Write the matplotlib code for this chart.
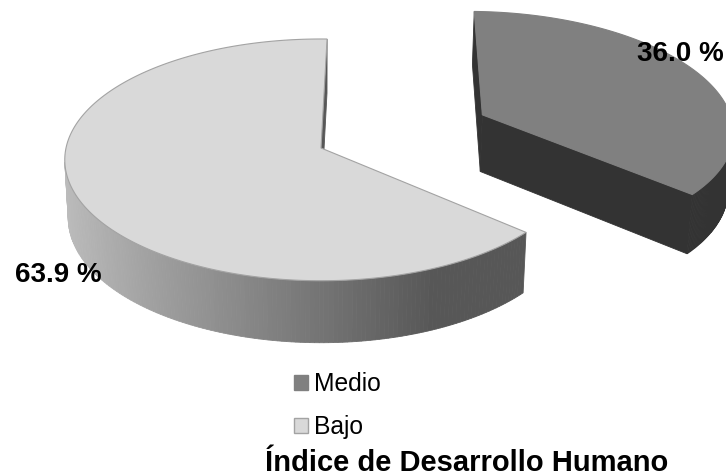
import numpy as np
import matplotlib
matplotlib.use("Agg")
import matplotlib.pyplot as plt
from matplotlib.patches import Polygon, Patch
from matplotlib.colors import to_rgb

# --- data -------------------------------------------------------------
categories = ["Medio", "Bajo"]
values = [36.0, 63.9]
value_labels = ["36.0 %", "63.9 %"]
title = "Índice de Desarrollo Humano"

# --- styling ----------------------------------------------------------
top_colors = ["#808080", "#d9d9d9"]
side_light = ["#333333", "#bdbdbd"]
side_dark = ["#333333", "#575757"]
top_edges = ["#808080", "#a3a3a3"]
explode = [0.71, 0.0]
label_pos = [(680, 61), (58, 282)]
START_ANGLE = 88.5           # degrees, slices run clockwise from here

ELEV = np.radians(28.0)      # camera elevation
DIST = 9.0                   # camera distance (in pie radii)
HEIGHT = 0.26                # pie thickness (in pie radii)
SCALE = 255.0                # pixels per pie radius
CX, CY = 321.0, 148.0        # screen position of the pie centre
SIN_E, COS_E = np.sin(ELEV), np.cos(ELEV)
CAMERA = np.array([0.0, DIST * SIN_E, DIST * COS_E])


def project(p):
    """Perspective projection of 3-D points (N,3) -> screen pixels (N,2)."""
    p = np.atleast_2d(p)
    X, Y, Z = p[:, 0], p[:, 1], p[:, 2]
    d = DIST - (Y * SIN_E + Z * COS_E)
    xs = DIST * X / d
    ys = DIST * (Y * COS_E - Z * SIN_E) / d
    return np.column_stack([CX + SCALE * xs, CY - SCALE * ys])


def depth(p):
    p = np.atleast_2d(p)
    return np.mean(DIST - (p[:, 1] * SIN_E + p[:, 2] * COS_E))


def rim(theta, ox, oz, y):
    return np.column_stack([ox + np.cos(theta), np.full_like(theta, y), oz - np.sin(theta)])


def visible(points, normal):
    return np.dot(CAMERA - points.mean(axis=0), normal) > 0


fig = plt.figure(figsize=(7.26, 4.76), dpi=100)
ax = fig.add_axes([0, 0, 1, 1])
ax.set_xlim(0, 726)
ax.set_ylim(476, 0)
ax.axis("off")

fracs = np.array(values) / np.sum(values)
starts = np.radians(START_ANGLE - 360.0 * np.concatenate([[0.0], np.cumsum(fracs)[:-1]]))
ends = starts - np.radians(360.0 * fracs)


def slice_offset(i):
    mid = (starts[i] + ends[i]) / 2
    return explode[i] * np.cos(mid), -explode[i] * np.sin(mid)


# farther slice first
order = sorted(range(len(values)),
               key=lambda i: -depth(np.array([[slice_offset(i)[0], 0.0, slice_offset(i)[1]]])))

for i in order:
    a, b = starts[i], ends[i]
    ox, oz = slice_offset(i)
    centre_top = np.array([ox, 0.0, oz])
    centre_bot = np.array([ox, -HEIGHT, oz])
    light = np.array(to_rgb(side_light[i]))
    dark = np.array(to_rgb(side_dark[i]))

    faces = []
    th = np.linspace(a, b, 240)
    top_rim = rim(th, ox, oz, 0.0)
    bot_rim = rim(th, ox, oz, -HEIGHT)
    for k in range(len(th) - 1):
        quad = np.array([top_rim[k], top_rim[k + 1], bot_rim[k + 1], bot_rim[k]])
        tm = (th[k] + th[k + 1]) / 2
        normal = np.array([np.cos(tm), 0.0, -np.sin(tm)])
        if visible(quad, normal):
            t = np.clip((np.cos(tm) + 1.0) / 1.4, 0, 1)
            faces.append((depth(quad), quad, light + (dark - light) * t))

    # radial cut faces
    for ang, normal in ((a, np.array([-np.sin(a), 0.0, -np.cos(a)])),
                        (b, np.array([np.sin(b), 0.0, np.cos(b)]))):
        edge_t = rim(np.array([ang]), ox, oz, 0.0)[0]
        edge_b = rim(np.array([ang]), ox, oz, -HEIGHT)[0]
        quad = np.array([centre_top, edge_t, edge_b, centre_bot])
        if visible(quad, normal):
            faces.append((depth(quad), quad, dark))

    for _, quad, col in sorted(faces, key=lambda f: -f[0]):
        ax.add_patch(Polygon(project(quad), closed=True, facecolor=col,
                             edgecolor=col, linewidth=0.6, antialiased=True))

    top = np.vstack([centre_top, top_rim])
    ax.add_patch(Polygon(project(top), closed=True, facecolor=top_colors[i],
                         edgecolor=top_edges[i], linewidth=0.8))

for (x, y), txt in zip(label_pos, value_labels):
    ax.text(x, y, txt, ha="center", va="baseline", fontsize=20,
            fontweight="bold", family="Liberation Sans", color="black")

handles = [Patch(facecolor=top_colors[i], edgecolor=top_edges[i] if i else top_colors[i],
                 linewidth=1.0, label=categories[i]) for i in range(len(categories))]
fig.legend(handles=handles, loc="upper left", bbox_to_anchor=(294 / 726, 1 - 372 / 476),
           frameon=False, prop={"family": "Liberation Sans", "size": 17.7},
           handlelength=0.57, handleheight=0.57, handletextpad=0.25,
           labelspacing=0.79, borderpad=0, borderaxespad=0)

fig.text(467 / 726, 1 - 471 / 476, title, ha="center", va="baseline",
         fontsize=21, fontweight="bold", family="Liberation Sans")

fig.savefig("out.png", dpi=100)
